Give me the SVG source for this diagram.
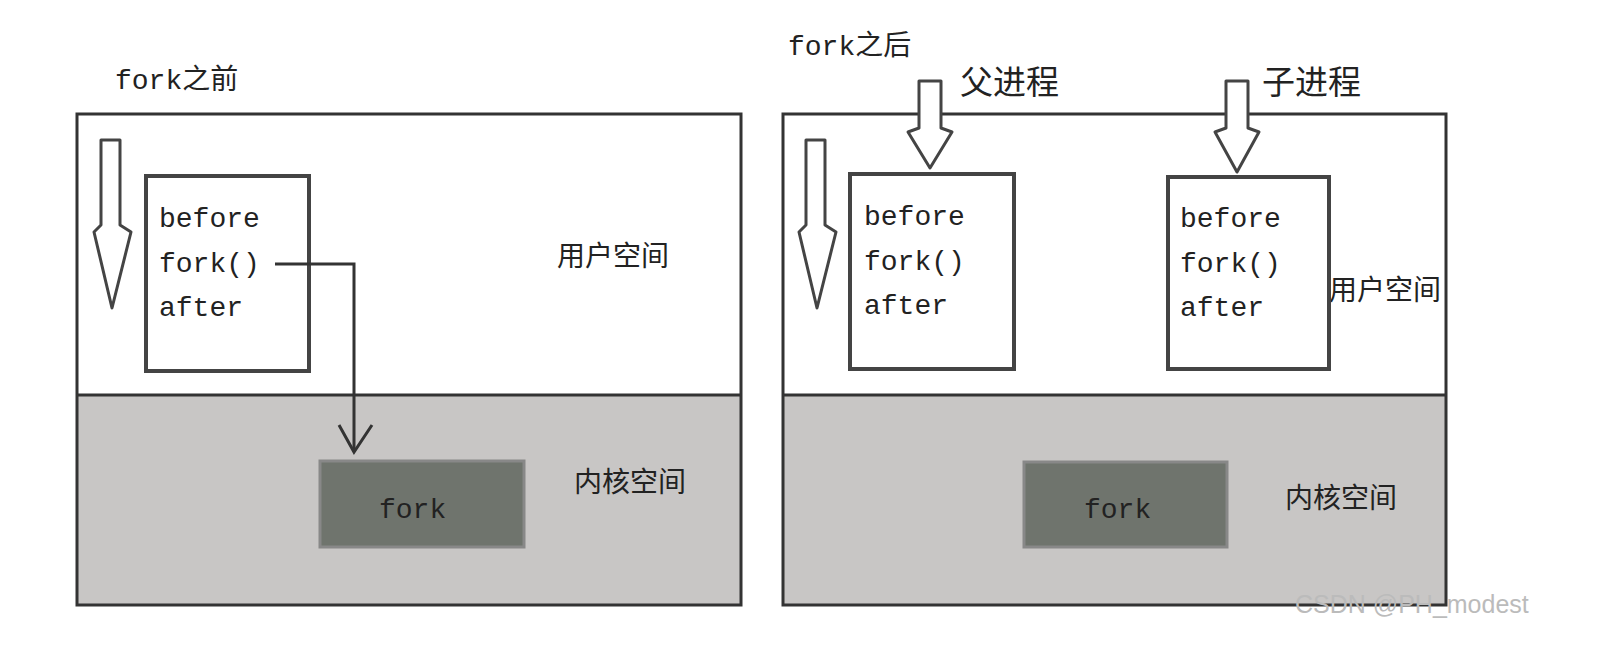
<svg xmlns="http://www.w3.org/2000/svg" width="1605" height="647" viewBox="0 0 1605 647">
<style>
.frame{fill:none;stroke:#333;stroke-width:3}
.kern{fill:#c8c6c5;stroke:none}
.box{fill:#fff;stroke:#444;stroke-width:4}
.fk{fill:#6f746d;stroke:#888;stroke-width:3}
.code{font-family:"Liberation Mono","DejaVu Sans Mono",monospace;font-size:28px;fill:#222}
.cjk{font-family:"Noto Sans CJK SC",sans-serif;font-size:28px;fill:#222}
.big{font-size:33px}
.blk{fill:#fff;stroke:#444;stroke-width:3;stroke-linejoin:round}
.ln{fill:none;stroke:#333;stroke-width:3}
</style>
<rect width="1605" height="647" fill="#fff"/>
<g id="before-panel">
<rect class="kern" x="77" y="395" width="664" height="210"/>
<rect class="frame" x="77" y="114" width="664" height="491"/>
<line class="ln" x1="77" y1="395" x2="741" y2="395"/>
<text class="code" x="115" y="89">fork<tspan class="cjk">之前</tspan></text>
<text class="cjk" x="557" y="266">用户空间</text>
<text class="cjk" x="574" y="492">内核空间</text>
</g>
<g id="before-flow">
<path class="blk" d="M101,140 H120 V225 L131,232 L112,308 L94,232 L101,225 Z"/>
</g>
<g id="before-code">
<rect class="box" x="146" y="176" width="163" height="195"/>
<text class="code" x="159" y="227">before</text>
<text class="code" x="159" y="272">fork()</text>
<text class="code" x="159" y="316">after</text>
</g>
<g id="before-kernel-fork">
<rect class="fk" x="320" y="461" width="204" height="86"/>
<text class="code" x="379" y="518">fork</text>
</g>
<g id="after-panel">
<rect class="kern" x="783" y="395" width="663" height="210"/>
<rect class="frame" x="783" y="114" width="663" height="491"/>
<line class="ln" x1="783" y1="395" x2="1446" y2="395"/>
<text class="code" x="788" y="55">fork<tspan class="cjk">之后</tspan></text>
<text class="cjk big" x="960" y="94">父进程</text>
<text class="cjk big" x="1262" y="94">子进程</text>
<text class="cjk" x="1329" y="300">用户空间</text>
<text class="cjk" x="1285" y="508">内核空间</text>
</g>
<g id="after-flow">
<path class="blk" d="M806,140 H825 V225 L836,232 L817,308 L799,232 L806,225 Z"/>
</g>
<g id="parent-arrow">
<path class="blk" d="M919,81 H941 V128 L952,132 L930,168 L908,132 L919,128 Z"/>
</g>
<g id="child-arrow">
<path class="blk" d="M1226,81 H1248 V128 L1259,132 L1237,172 L1215,132 L1226,128 Z"/>
</g>
<g id="parent-code">
<rect class="box" x="850" y="174" width="164" height="195"/>
<text class="code" x="864" y="225">before</text>
<text class="code" x="864" y="270">fork()</text>
<text class="code" x="864" y="314">after</text>
</g>
<g id="child-code">
<rect class="box" x="1168" y="177" width="161" height="192"/>
<text class="code" x="1180" y="227">before</text>
<text class="code" x="1180" y="272">fork()</text>
<text class="code" x="1180" y="316">after</text>
</g>
<g id="after-kernel-fork">
<rect class="fk" x="1024" y="462" width="203" height="85"/>
<text class="code" x="1084" y="518">fork</text>
</g>
<g id="connectors">
<path class="ln" d="M275,264 H354 V452"/>
<path class="ln" d="M339,425 L354,452 L372,425"/>
</g>
<text x="1295" y="613" style="font-family:'Liberation Sans',sans-serif;font-size:25px;fill:#bbb">CSDN @PH_modest</text>
</svg>
